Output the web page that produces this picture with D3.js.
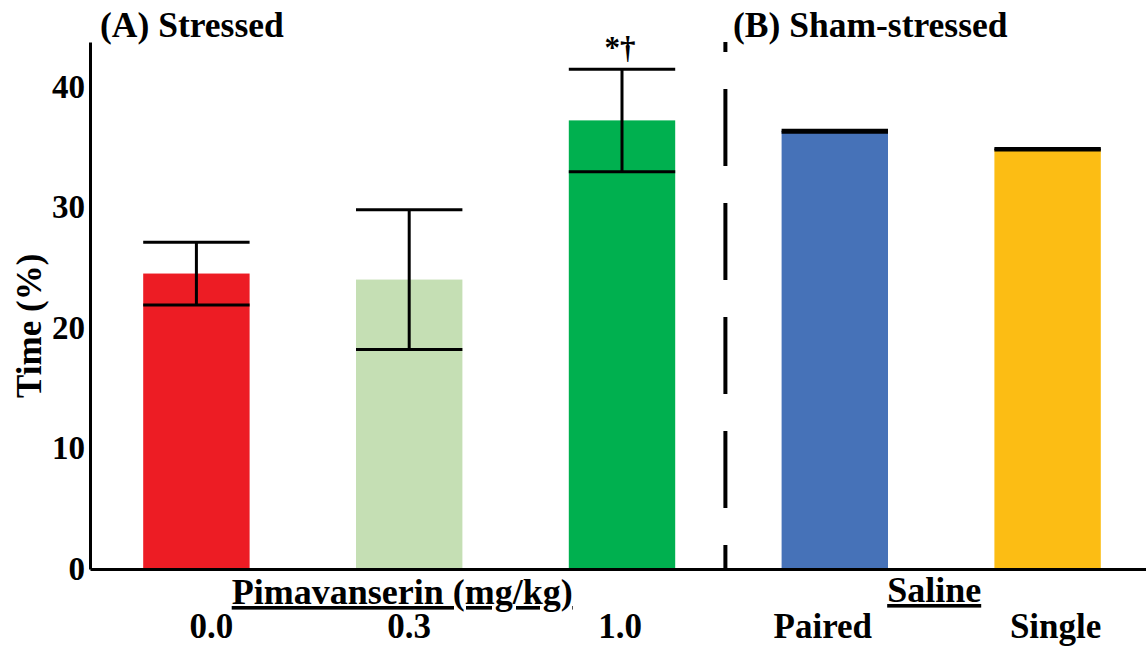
<!DOCTYPE html>
<html>
<head>
<meta charset="utf-8">
<script src="https://cdn.jsdelivr.net/npm/d3@7"></script>
<style>
    body { margin: 0; background: #fff; }
    svg text { font-family: "Liberation Serif", "Times New Roman", serif; font-weight: bold; fill: #000; }
</style>
</head>
<body>
<div id="chart"></div>
<script>
// data
var groups = ["0.0", "0.3", "1.0", "Paired", "Single"];
var means = [24.5, 24.0, 37.2, 36.3, 34.8];
var sems = [2.6, 5.8, 4.25, 0.08, 0.06];
var colors = ["#ED1C24", "#C5DFB4", "#00B04F", "#4672B8", "#FCBD14"];
var yTicks = [0, 10, 20, 30, 40];
var panelTitles = ["(A) Stressed", "(B) Sham-stressed"];
var groupTitles = ["Pimavanserin (mg/kg)", "Saline"];
var signif = ["", "", "*\u2020", "", ""];

var width = 1146, height = 652;

var svg = d3.select("#chart")
    .append("svg")
    .attr("width", width)
    .attr("height", height);

var x = d3.scaleBand()
    .domain(groups)
    .range([90, 1154])
    .paddingInner(0.5)
    .paddingOuter(0.25);

var y = d3.scaleLinear()
    .domain([0, 43.7])
    .range([569, 42]);

var bw = x.bandwidth();

// bars
svg.selectAll(".bar")
    .data(groups)
    .enter().append("rect")
    .attr("class", "bar")
    .attr("x", function(d) { return x(d); })
    .attr("y", function(d, i) { return y(means[i]); })
    .attr("width", bw)
    .attr("height", function(d, i) { return y(0) - y(means[i]); })
    .attr("fill", function(d, i) { return colors[i]; });

// error bars
var err = svg.selectAll(".err")
    .data(groups)
    .enter().append("g")
    .attr("class", "err")
    .attr("stroke", "#000")
    .attr("stroke-width", 3);

err.append("line")
    .attr("x1", function(d) { return x(d) + bw / 2; })
    .attr("x2", function(d) { return x(d) + bw / 2; })
    .attr("y1", function(d, i) { return y(means[i] + sems[i]); })
    .attr("y2", function(d, i) { return y(means[i] - sems[i]); });

err.append("line")
    .attr("x1", function(d) { return x(d); })
    .attr("x2", function(d) { return x(d) + bw; })
    .attr("y1", function(d, i) { return y(means[i] + sems[i]); })
    .attr("y2", function(d, i) { return y(means[i] + sems[i]); });

err.append("line")
    .attr("x1", function(d) { return x(d); })
    .attr("x2", function(d) { return x(d) + bw; })
    .attr("y1", function(d, i) { return y(means[i] - sems[i]); })
    .attr("y2", function(d, i) { return y(means[i] - sems[i]); });

// significance marks
svg.selectAll(".sig")
    .data(groups)
    .enter().append("text")
    .attr("class", "sig")
    .attr("x", function(d) { return x(d) + bw / 2 - 2; })
    .attr("y", function(d, i) { return y(means[i] + sems[i]) - 11; })
    .attr("text-anchor", "middle")
    .style("font-size", "31px")
    .text(function(d, i) { return signif[i]; });

// y axis
var yAxis = svg.append("g")
    .attr("class", "y_axis")
    .attr("transform", "translate(90,0)")
    .call(d3.axisLeft(y).tickValues(yTicks).tickSize(0).tickPadding(5).tickFormat(d3.format("d")));
yAxis.select(".domain").attr("stroke-width", 3);
yAxis.selectAll("text")
    .style("font-size", "33px")
    .style("font-family", "'Liberation Serif', serif")
    .style("font-weight", "bold");

// x axis
var xAxis = svg.append("g")
    .attr("class", "x_axis")
    .attr("transform", "translate(0," + y(0) + ")")
    .call(d3.axisBottom(x).tickSize(0).tickPadding(44));
xAxis.select(".domain").attr("stroke-width", 3);
xAxis.selectAll("text")
    .style("font-size", "35px")
    .style("font-family", "'Liberation Serif', serif")
    .style("font-weight", "bold");
// small nudges so labels sit where the original put them
xAxis.selectAll(".tick text")
    .attr("dx", function(d, i) { return [15, 0, -2, -12, 8][i]; });

// y axis title
svg.append("text")
    .attr("transform", "translate(41," + ((y(0) + y(40)) / 2 - 2) + ") rotate(-90)")
    .attr("text-anchor", "middle")
    .style("font-size", "35px")
    .text("Time (%)");

// dashed divider between panels
var divX = (x("1.0") + bw + x("Paired")) / 2 - 3;
svg.append("line")
    .attr("x1", divX).attr("x2", divX)
    .attr("y1", y.range()[1]).attr("y2", y(0))
    .attr("stroke", "#000")
    .attr("stroke-width", 4)
    .attr("stroke-dasharray", "77 37")
    .attr("stroke-dashoffset", 67);

// panel titles
svg.append("text")
    .attr("x", 100).attr("y", 37)
    .style("font-size", "35.5px")
    .text(panelTitles[0]);

svg.append("text")
    .attr("x", 733).attr("y", 37)
    .style("font-size", "35.5px")
    .text(panelTitles[1]);

// group titles under the axis
svg.append("text")
    .attr("x", x("0.3") + bw / 2 - 7)
    .attr("y", 604)
    .attr("text-anchor", "middle")
    .style("font-size", "36px")
    .style("text-decoration", "underline")
    .text(groupTitles[0]);

svg.append("text")
    .attr("x", (x("Paired") + x("Single") + bw) / 2 - 7)
    .attr("y", 602)
    .attr("text-anchor", "middle")
    .style("font-size", "36px")
    .style("text-decoration", "underline")
    .text(groupTitles[1]);
</script>
</body>
</html>
